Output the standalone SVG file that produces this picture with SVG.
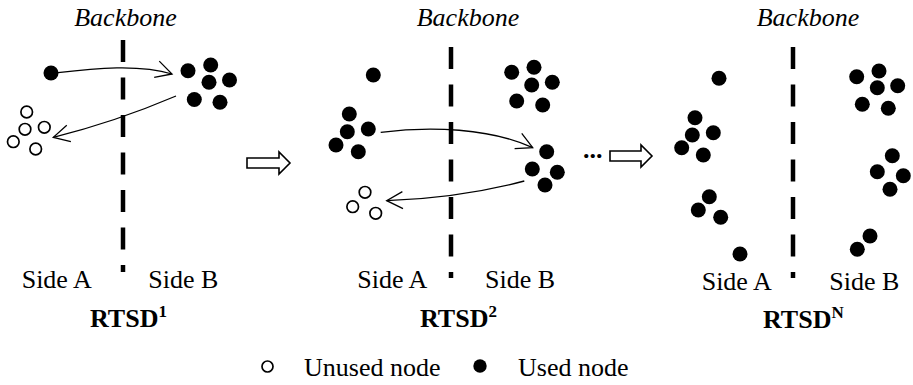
<svg xmlns="http://www.w3.org/2000/svg" width="913" height="385" viewBox="0 0 913 385">
<style>
text{font-family:"Liberation Serif","Times New Roman",serif;font-size:26px;fill:#000}
.it{font-style:italic}
.bd{font-weight:bold}
.sup{font-size:17px;font-weight:bold}
.u{fill:#000}
.o{fill:#fff;stroke:#000;stroke-width:1.7}
.bb{stroke:#000;stroke-width:4.5;stroke-dasharray:22 15.5;fill:none}
.cn{fill:none;stroke:#000;stroke-width:1.3;marker-end:url(#chev)}
.blk{fill:#fff;stroke:#000;stroke-width:1.6;stroke-linejoin:miter}
</style>
<defs>
<marker id="chev" markerUnits="userSpaceOnUse" markerWidth="40" markerHeight="40" refX="0" refY="0" orient="auto" viewBox="-20 -20 40 40" overflow="visible">
<path d="M-16,-8.5 L0,0 L-16,8.5" fill="none" stroke="#000" stroke-width="1.3"/>
</marker>
</defs>
<rect width="913" height="385" fill="#fff"/>

<!-- Panel 1 -->
<g id="panel1-backbone">
<text class="it" x="125.5" y="26" text-anchor="middle">Backbone</text>
<line class="bb" x1="123" y1="40" x2="123" y2="272"/>
</g>
<g id="p1-used-single"><circle class="u" cx="51" cy="73" r="7.5"/></g>
<g id="p1-used-cluster">
<circle class="u" cx="188" cy="70.7" r="7.5"/>
<circle class="u" cx="210.7" cy="65" r="7.5"/>
<circle class="u" cx="209" cy="82.3" r="7.5"/>
<circle class="u" cx="229.5" cy="80" r="7.5"/>
<circle class="u" cx="194.3" cy="99.5" r="7.5"/>
<circle class="u" cx="220" cy="102.3" r="7.5"/>
</g>
<g id="p1-unused-cluster">
<circle class="o" cx="26.7" cy="112" r="5.8"/>
<circle class="o" cx="25" cy="129.3" r="5.8"/>
<circle class="o" cx="44.3" cy="127.3" r="5.8"/>
<circle class="o" cx="13.3" cy="141.7" r="5.8"/>
<circle class="o" cx="35.7" cy="149" r="5.8"/>
</g>
<g id="p1-labels">
<text x="21.7" y="288">Side A</text>
<text x="148.3" y="288">Side B</text>
<text class="bd" x="90" y="327">RTSD<tspan class="sup" dy="-10.5">1</tspan></text>
</g>
<g id="step-arrow-1"><path class="blk" d="M247,158 H279 V152 L290,163 L279,174 V168 H247 Z"/></g>

<!-- Panel 2 -->
<g id="panel2-backbone">
<text class="it" x="468" y="26" text-anchor="middle">Backbone</text>
<line class="bb" x1="451" y1="47" x2="451" y2="278"/>
</g>
<g id="p2-used-single"><circle class="u" cx="373.3" cy="75" r="7.5"/></g>
<g id="p2-used-left">
<circle class="u" cx="349.3" cy="114" r="7.5"/>
<circle class="u" cx="347.3" cy="131.7" r="7.5"/>
<circle class="u" cx="368.3" cy="129" r="7.5"/>
<circle class="u" cx="336" cy="145" r="7.5"/>
<circle class="u" cx="358.3" cy="151.7" r="7.5"/>
</g>
<g id="p2-used-top-right">
<circle class="u" cx="511.7" cy="72.3" r="7.5"/>
<circle class="u" cx="534" cy="67.3" r="7.5"/>
<circle class="u" cx="531.7" cy="85" r="7.5"/>
<circle class="u" cx="552.3" cy="82.3" r="7.5"/>
<circle class="u" cx="516.7" cy="101" r="7.5"/>
<circle class="u" cx="542.7" cy="105" r="7.5"/>
</g>
<g id="p2-used-mid-right">
<circle class="u" cx="546.7" cy="151.7" r="7.5"/>
<circle class="u" cx="532.3" cy="169" r="7.5"/>
<circle class="u" cx="557.3" cy="172.3" r="7.5"/>
<circle class="u" cx="545" cy="185" r="7.5"/>
</g>
<g id="p2-unused-cluster">
<circle class="o" cx="365" cy="192.3" r="5.8"/>
<circle class="o" cx="352.7" cy="206.7" r="5.8"/>
<circle class="o" cx="375.7" cy="213.3" r="5.8"/>
</g>
<g id="p2-labels">
<text x="357.3" y="288">Side A</text>
<text x="485" y="288">Side B</text>
<text class="bd" x="420" y="327">RTSD<tspan class="sup" dy="-10.5">2</tspan></text>
</g>
<g id="ellipsis"><text class="bd" x="583" y="158">...</text></g>
<g id="step-arrow-2"><path class="blk" d="M610,151 H641 V145 L652,156 L641,167 V161 H610 Z"/></g>

<!-- Panel 3 -->
<g id="panel3-backbone">
<text class="it" x="808" y="26" text-anchor="middle">Backbone</text>
<line class="bb" x1="793" y1="47" x2="793" y2="278"/>
</g>
<g id="p3-used-single-top"><circle class="u" cx="719" cy="78.3" r="7.5"/></g>
<g id="p3-used-left">
<circle class="u" cx="695" cy="117.7" r="7.5"/>
<circle class="u" cx="692.3" cy="135" r="7.5"/>
<circle class="u" cx="713.3" cy="132.7" r="7.5"/>
<circle class="u" cx="681.7" cy="147.7" r="7.5"/>
<circle class="u" cx="703.3" cy="155" r="7.5"/>
</g>
<g id="p3-used-left-lower">
<circle class="u" cx="709.3" cy="196.7" r="7.5"/>
<circle class="u" cx="698.3" cy="210" r="7.5"/>
<circle class="u" cx="720.7" cy="217.3" r="7.5"/>
</g>
<g id="p3-used-single-bottom"><circle class="u" cx="740" cy="254" r="7.5"/></g>
<g id="p3-used-right-top">
<circle class="u" cx="856.7" cy="76.7" r="7.5"/>
<circle class="u" cx="879" cy="71" r="7.5"/>
<circle class="u" cx="877.3" cy="87.7" r="7.5"/>
<circle class="u" cx="897.7" cy="85.7" r="7.5"/>
<circle class="u" cx="862.3" cy="104.3" r="7.5"/>
<circle class="u" cx="888.3" cy="108.3" r="7.5"/>
</g>
<g id="p3-used-right-mid">
<circle class="u" cx="892.3" cy="155.7" r="7.5"/>
<circle class="u" cx="877.3" cy="171.7" r="7.5"/>
<circle class="u" cx="903.3" cy="175.7" r="7.5"/>
<circle class="u" cx="890" cy="189.3" r="7.5"/>
</g>
<g id="p3-used-right-bottom">
<circle class="u" cx="870" cy="236" r="7.5"/>
<circle class="u" cx="857.3" cy="249.3" r="7.5"/>
</g>
<g id="p3-labels">
<text x="701.7" y="290">Side A</text>
<text x="829.3" y="290">Side B</text>
<text class="bd" x="763" y="328">RTSD<tspan class="sup" dy="-10.5">N</tspan></text>
</g>

<!-- Legend -->
<g id="legend">
<circle class="o" cx="267.5" cy="366.5" r="5.5"/>
<text x="304" y="376">Unused node</text>
<circle class="u" cx="480" cy="366" r="6.7"/>
<text x="518" y="376">Used node</text>
</g>

<!-- Connectors -->
<g id="connectors">
<path class="cn" d="M58,72.7 C95,68 140,64 172,74"/>
<path class="cn" d="M176,96 Q115,122 53.3,137.3"/>
<path class="cn" d="M380.7,132.3 C430,126 490,128 532.7,147.7"/>
<path class="cn" d="M524.3,181 Q460,198 386.7,200.7"/>
</g>
</svg>
